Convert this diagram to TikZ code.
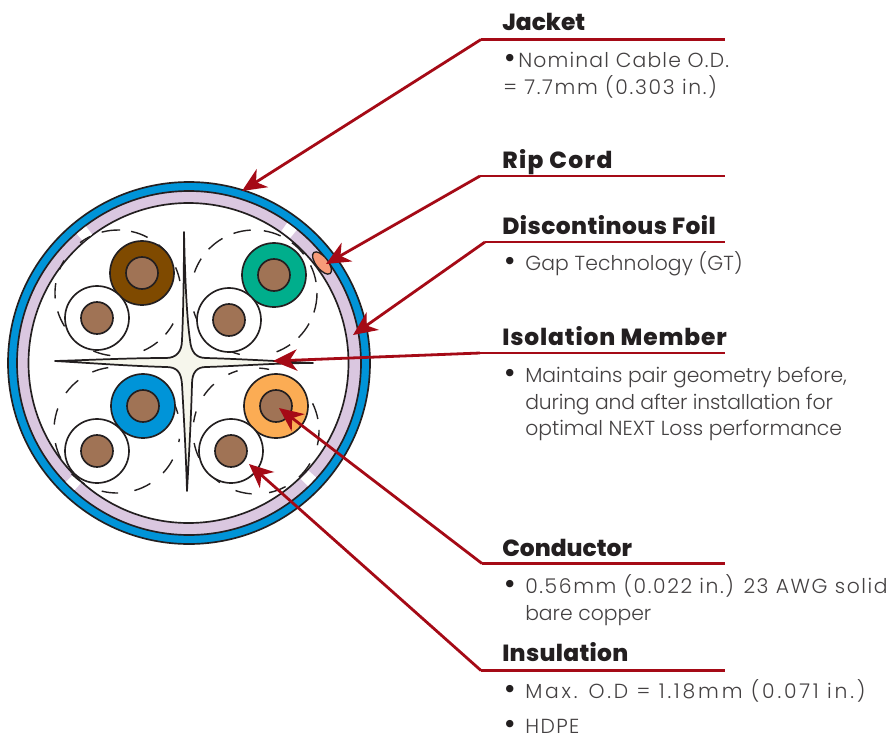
\documentclass[tikz,border=0pt]{standalone}
\usepackage{fontspec}
\setmainfont{Poppins}[BoldFont={Poppins ExtraBold}]
\newfontfamily\lightfont{Poppins Light}
\newfontfamily\dotfont{DejaVu Sans}
\usetikzlibrary{arrows.meta}
\definecolor{jacketblue}{HTML}{0094D8}
\definecolor{foilpurple}{HTML}{DAC7E0}
\definecolor{copper}{HTML}{A07355}
\definecolor{wbrown}{HTML}{7F4A00}
\definecolor{wgreen}{HTML}{00AE8C}
\definecolor{worange}{HTML}{FBAC54}
\definecolor{ripcord}{HTML}{F79B79}
\definecolor{arrowred}{HTML}{A50A16}
\definecolor{crossfill}{HTML}{F6F6EC}
\definecolor{ink}{HTML}{231F20}
\newcommand{\trk}[1]{\addfontfeature{LetterSpace=#1}}
\tikzset{
  shell/.style={draw=ink,line width=1.25pt},
  wire/.style={circle,draw=ink,line width=1.25pt,minimum size=48pt,inner sep=0pt},
  core/.style={circle,draw=ink,line width=1.25pt,fill=copper,minimum size=24pt,inner sep=0pt},
  pairring/.style={draw=ink,line width=1.05pt},
  head/.style={anchor=base west,font=\bfseries\fontsize{17.5}{20}\selectfont,text=ink,inner sep=0pt},
  body/.style={anchor=base west,font=\lightfont\fontsize{15.25}{20}\selectfont,text=ink!85,inner sep=0pt},
  dotmark/.style={anchor=base west,font=\dotfont\fontsize{19}{20}\selectfont,text=ink,inner sep=0pt},
  rulered/.style={draw=arrowred,line width=2pt},
  leader/.style={draw=arrowred,line width=2.1pt,-{Stealth[length=18pt,width=16pt,inset=5.5pt]}}
}
\newcommand{\ringarcs}[3]{% cx, cy, list of start/end
  \foreach \s/\e in {#3}{
    \draw[pairring] ([shift={(\s:47.25pt)}]#1,#2) arc[start angle=\s,end angle=\e,radius=47.25pt];
  }
}
\begin{document}
\begin{tikzpicture}[x=0.75pt,y=-0.75pt]
\useasboundingbox (0,0) rectangle (893,736);
\fill[white] (0,0) rectangle (893,736);
% cable shells
\coordinate (c) at (189,363);
\filldraw[shell,fill=jacketblue] (c) circle (135.75pt);
\filldraw[shell,fill=foilpurple] (c) circle (129pt);
\filldraw[shell,fill=white] (188.5,363) circle (120pt);
% foil gaps
\foreach \a in {129,53,-134,-44}{
  \fill[white] ([shift={(\a-2:120.8pt)}]c) -- ([shift={(\a-2:128.3pt)}]c) -- ([shift={(\a+2:128.3pt)}]c) -- ([shift={(\a+2:120.8pt)}]c) -- cycle;
}
% rip cord
\filldraw[draw=ink,line width=1pt,fill=ripcord,rotate around={-52:(322,263)}] (322,263) ellipse [x radius=10pt,y radius=4.5pt];
% dashed rings round the pairs
\ringarcs{118}{293}{105/88,78/62,50/37,24/11,-29/-41,-51/-66,-97/-113,-125/-136,-148/-163,-175/-189,149/158,116/127}
\ringarcs{254}{293}{109/93,81/65,53/38,26/10,0/-18,-29/-45,-55/-69,-116/-103,-130/-140,-150/-163,161/147,136/120}
\ringarcs{117}{430}{113/98,128/144,160/175,-168/-153,-136/-121,-104/-89,-74/-58,-43/-28,-11/-8,24/15,54/39}
\ringarcs{256}{431}{116/107,132/146,162/172,-169/-155,-138/-125,-109/-94,-78/-62,-47/-31,-13/1,26/11,57/42,87/78}
% wires
\node[wire,fill=wbrown] (w1) at (142,273) {};
\node[core] (k1) at (142,273) {};
\node[wire,fill=white] (w2) at (97,318) {};
\node[core] (k2) at (97,318) {};
\node[wire,fill=wgreen] (w3) at (274,275) {};
\node[core] (k3) at (274,275) {};
\node[wire,fill=white] (w4) at (229,320) {};
\node[core] (k4) at (229,320) {};
\node[wire,fill=jacketblue] (w5) at (143,406) {};
\node[core] (k5) at (143,406) {};
\node[wire,fill=white] (w6) at (97,451) {};
\node[core] (k6) at (97,451) {};
\node[wire,fill=worange] (w7) at (276,406) {};
\node[core] (k7) at (276,406) {};
\node[wire,fill=white] (w8) at (231,451) {};
\node[core] (k8) at (231,451) {};
% isolation member
\filldraw[draw=ink,line width=1.3pt,fill=crossfill,line join=round]
  (184,232) .. controls (185,280) and (187,320) .. (190,340)
  .. controls (191,352) and (196,358) .. (206,358)
  .. controls (240,359) and (275,361) .. (313,363)
  .. controls (275,363) and (240,366) .. (206,367)
  .. controls (197,367) and (192,372) .. (192,384)
  .. controls (191,420) and (189,455) .. (187,491)
  .. controls (186,455) and (184,420) .. (182,384)
  .. controls (181,372) and (177,367) .. (166,367)
  .. controls (130,366) and (90,363) .. (55,361)
  .. controls (90,360) and (130,358) .. (166,358)
  .. controls (176,358) and (182,352) .. (182,340)
  .. controls (183,320) and (184,280) .. (184,232) -- cycle;
% targets
\coordinate (tJacket) at (242,191);
\coordinate (tRip) at (326,264);
\coordinate (tFoil) at (353,335);
\coordinate (tIso) at (273,361);
\coordinate (tCond) at (279,408);
\coordinate (tIns) at (249,464);
% callout rules
\coordinate (aJacket) at (481,39.5);  \coordinate (bJacket) at (725,39.5);
\coordinate (aRip) at (480,176);      \coordinate (bRip) at (725,176);
\coordinate (aFoil) at (485,242);     \coordinate (bFoil) at (725,242);
\coordinate (aIso) at (480,353);      \coordinate (bIso) at (725,353);
\coordinate (aCond) at (482,563.5);   \coordinate (bCond) at (725,563.5);
\coordinate (aIns) at (481,670.5);    \coordinate (bIns) at (725,670.5);
\foreach \n in {Jacket,Rip,Foil,Iso,Cond,Ins}{
  \draw[rulered] (a\n) -- (b\n);
  \draw[leader] (a\n) -- (t\n);
}
% headings
\node[head] (hJacket) at (502,30) {Jacket};
\node[head] (hRip) at (502,168) {\trk{6}Rip Cord};
\node[head] (hFoil) at (502,234) {\trk{2}Discontinous Foil};
\node[head] (hIso) at (502,345) {\trk{3.7}Isolation Member};
\node[head] (hCond) at (502,556) {Conductor};
\node[head] (hIns) at (502,661) {\trk{1.3}Insulation};
% text
\node[dotmark] (b1) at (502,67) {•};
\node[body] (l1) at (518,67) {\trk{5.8}Nominal Cable O.D.};
\node[body] (l2) at (503,94) {\trk{8.3}= 7.7mm (0.303 in.)};
\node[dotmark] (b3) at (502,270) {•};
\node[body] (l3) at (525,270) {\trk{0.7}Gap Technology (GT)};
\node[dotmark] (b4) at (502,382) {•};
\node[body] (l4) at (525,382) {Maintains pair geometry before,};
\node[body] (l5) at (525,409) {\trk{-0.8}during and after installation for};
\node[body] (l6) at (525,435) {optimal NEXT Loss performance};
\node[dotmark] (b7) at (502,593) {•};
\node[body] (l7) at (525,593) {\trk{7.9}0.56mm (0.022 in.) 23 AWG solid};
\node[body] (l8) at (525,620) {bare copper};
\node[dotmark] (b9) at (502,698) {•};
\node[body] (l9) at (525,698) {\trk{13.7}Max. O.D = 1.18mm (0.071 in.)};
\node[dotmark] (b10) at (502,733) {•};
\node[body] (l10) at (525,733) {\trk{7}HDPE};
\end{tikzpicture}
\end{document}
